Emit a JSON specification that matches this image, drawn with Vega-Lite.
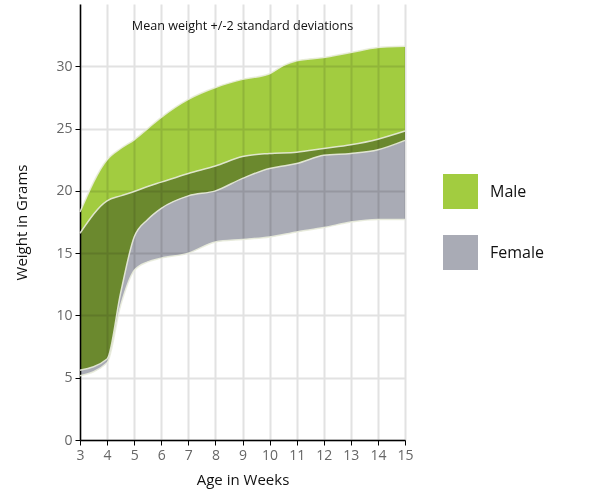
{
  "$schema": "https://vega.github.io/schema/vega-lite/v6.json",
  "autosize": "none",
  "width": 325,
  "height": 436,
  "padding": {"left": 80, "top": 4, "right": 200, "bottom": 60},
  "background": "white",
  "title": {
    "text": "Mean weight +/-2 standard deviations",
    "anchor": "middle",
    "frame": "group",
    "offset": -29,
    "fontSize": 12.6,
    "fontWeight": "normal",
    "font": "Open Sans",
    "color": "#111"
  },
  "config": {
    "font": "Open Sans",
    "view": {"stroke": null},
    "axis": {
      "domainColor": "#000",
      "domainWidth": 1.5,
      "tickColor": "#000",
      "tickSize": 5,
      "labelColor": "#666",
      "labelFontSize": 14,
      "labelFlush": false,
      "titleColor": "#111",
      "titleFontSize": 15,
      "titleFontWeight": "normal",
      "gridColor": "#e2e2e2",
      "gridWidth": 2
    }
  },
  "data": {
    "values": [
      {"week": 3, "sex": "Male", "lo": 5.6, "hi": 18.3},
      {"week": 4, "sex": "Male", "lo": 6.5, "hi": 22.5},
      {"week": 4.5, "sex": "Male", "lo": 11.8, "hi": 23.4},
      {"week": 5, "sex": "Male", "lo": 16.3, "hi": 24.1},
      {"week": 5.5, "sex": "Male", "lo": 17.7, "hi": 25.0},
      {"week": 6, "sex": "Male", "lo": 18.6, "hi": 25.9},
      {"week": 7, "sex": "Male", "lo": 19.6, "hi": 27.35},
      {"week": 8, "sex": "Male", "lo": 20.0, "hi": 28.3},
      {"week": 9, "sex": "Male", "lo": 21.0, "hi": 28.95},
      {"week": 10, "sex": "Male", "lo": 21.8, "hi": 29.4},
      {"week": 10.5, "sex": "Male", "lo": 22.0, "hi": 30.05},
      {"week": 11, "sex": "Male", "lo": 22.2, "hi": 30.45},
      {"week": 12, "sex": "Male", "lo": 22.85, "hi": 30.7},
      {"week": 13, "sex": "Male", "lo": 23.0, "hi": 31.1},
      {"week": 14, "sex": "Male", "lo": 23.3, "hi": 31.5},
      {"week": 15, "sex": "Male", "lo": 24.05, "hi": 31.6},
      {"week": 3, "sex": "Female", "lo": 5.15, "hi": 16.6},
      {"week": 4, "sex": "Female", "lo": 6.2, "hi": 19.2},
      {"week": 4.5, "sex": "Female", "lo": 10.8, "hi": 19.6},
      {"week": 5, "sex": "Female", "lo": 13.6, "hi": 19.95},
      {"week": 5.5, "sex": "Female", "lo": 14.3, "hi": 20.35},
      {"week": 6, "sex": "Female", "lo": 14.6, "hi": 20.7},
      {"week": 7, "sex": "Female", "lo": 15.0, "hi": 21.4},
      {"week": 8, "sex": "Female", "lo": 15.9, "hi": 22.0},
      {"week": 9, "sex": "Female", "lo": 16.1, "hi": 22.75},
      {"week": 10, "sex": "Female", "lo": 16.3, "hi": 23.0},
      {"week": 11, "sex": "Female", "lo": 16.7, "hi": 23.1},
      {"week": 12, "sex": "Female", "lo": 17.05, "hi": 23.4},
      {"week": 13, "sex": "Female", "lo": 17.5, "hi": 23.7},
      {"week": 14, "sex": "Female", "lo": 17.7, "hi": 24.15},
      {"week": 15, "sex": "Female", "lo": 17.7, "hi": 24.8}
    ]
  },
  "encoding": {
    "x": {
      "field": "week",
      "type": "quantitative",
      "title": "Age in Weeks",
      "scale": {"domain": [3, 15], "nice": false, "zero": false},
      "axis": {
        "values": [3, 4, 5, 6, 7, 8, 9, 10, 11, 12, 13, 14, 15],
        "labelPadding": 3,
        "titlePadding": 10
      }
    }
  },
  "layer": [
    {
      "mark": {"type": "area", "interpolate": "monotone", "opacity": 1, "blend": "multiply"},
      "encoding": {
        "y": {
          "field": "lo",
          "type": "quantitative",
          "title": "Weight in Grams",
          "scale": {"domain": [0, 35], "nice": false},
          "axis": {
            "values": [0, 5, 10, 15, 20, 25, 30],
            "labelPadding": 3,
            "titlePadding": 26
          }
        },
        "y2": {"field": "hi"},
        "color": {
          "field": "sex",
          "type": "nominal",
          "title": null,
          "scale": {"domain": ["Male", "Female"], "range": ["#a2cc40", "#a9abb5"]},
          "legend": {
            "orient": "none",
            "legendX": 363,
            "legendY": 170,
            "symbolType": "square",
            "symbolSize": 1225,
            "symbolStrokeWidth": 0,
            "symbolOpacity": 1,
            "rowPadding": 26,
            "labelOffset": 12,
            "labelFontSize": 16,
            "labelColor": "#111",
            "padding": 0
          }
        }
      }
    },
    {
      "mark": {"type": "line", "interpolate": "monotone", "color": "#e9ecdc", "strokeWidth": 1.5, "opacity": 0.9},
      "encoding": {
        "y": {"field": "lo", "type": "quantitative"},
        "detail": {"field": "sex"}
      }
    },
    {
      "mark": {"type": "line", "interpolate": "monotone", "color": "#e9ecdc", "strokeWidth": 1.5, "opacity": 0.9},
      "encoding": {
        "y": {"field": "hi", "type": "quantitative"},
        "detail": {"field": "sex"}
      }
    }
  ]
}
